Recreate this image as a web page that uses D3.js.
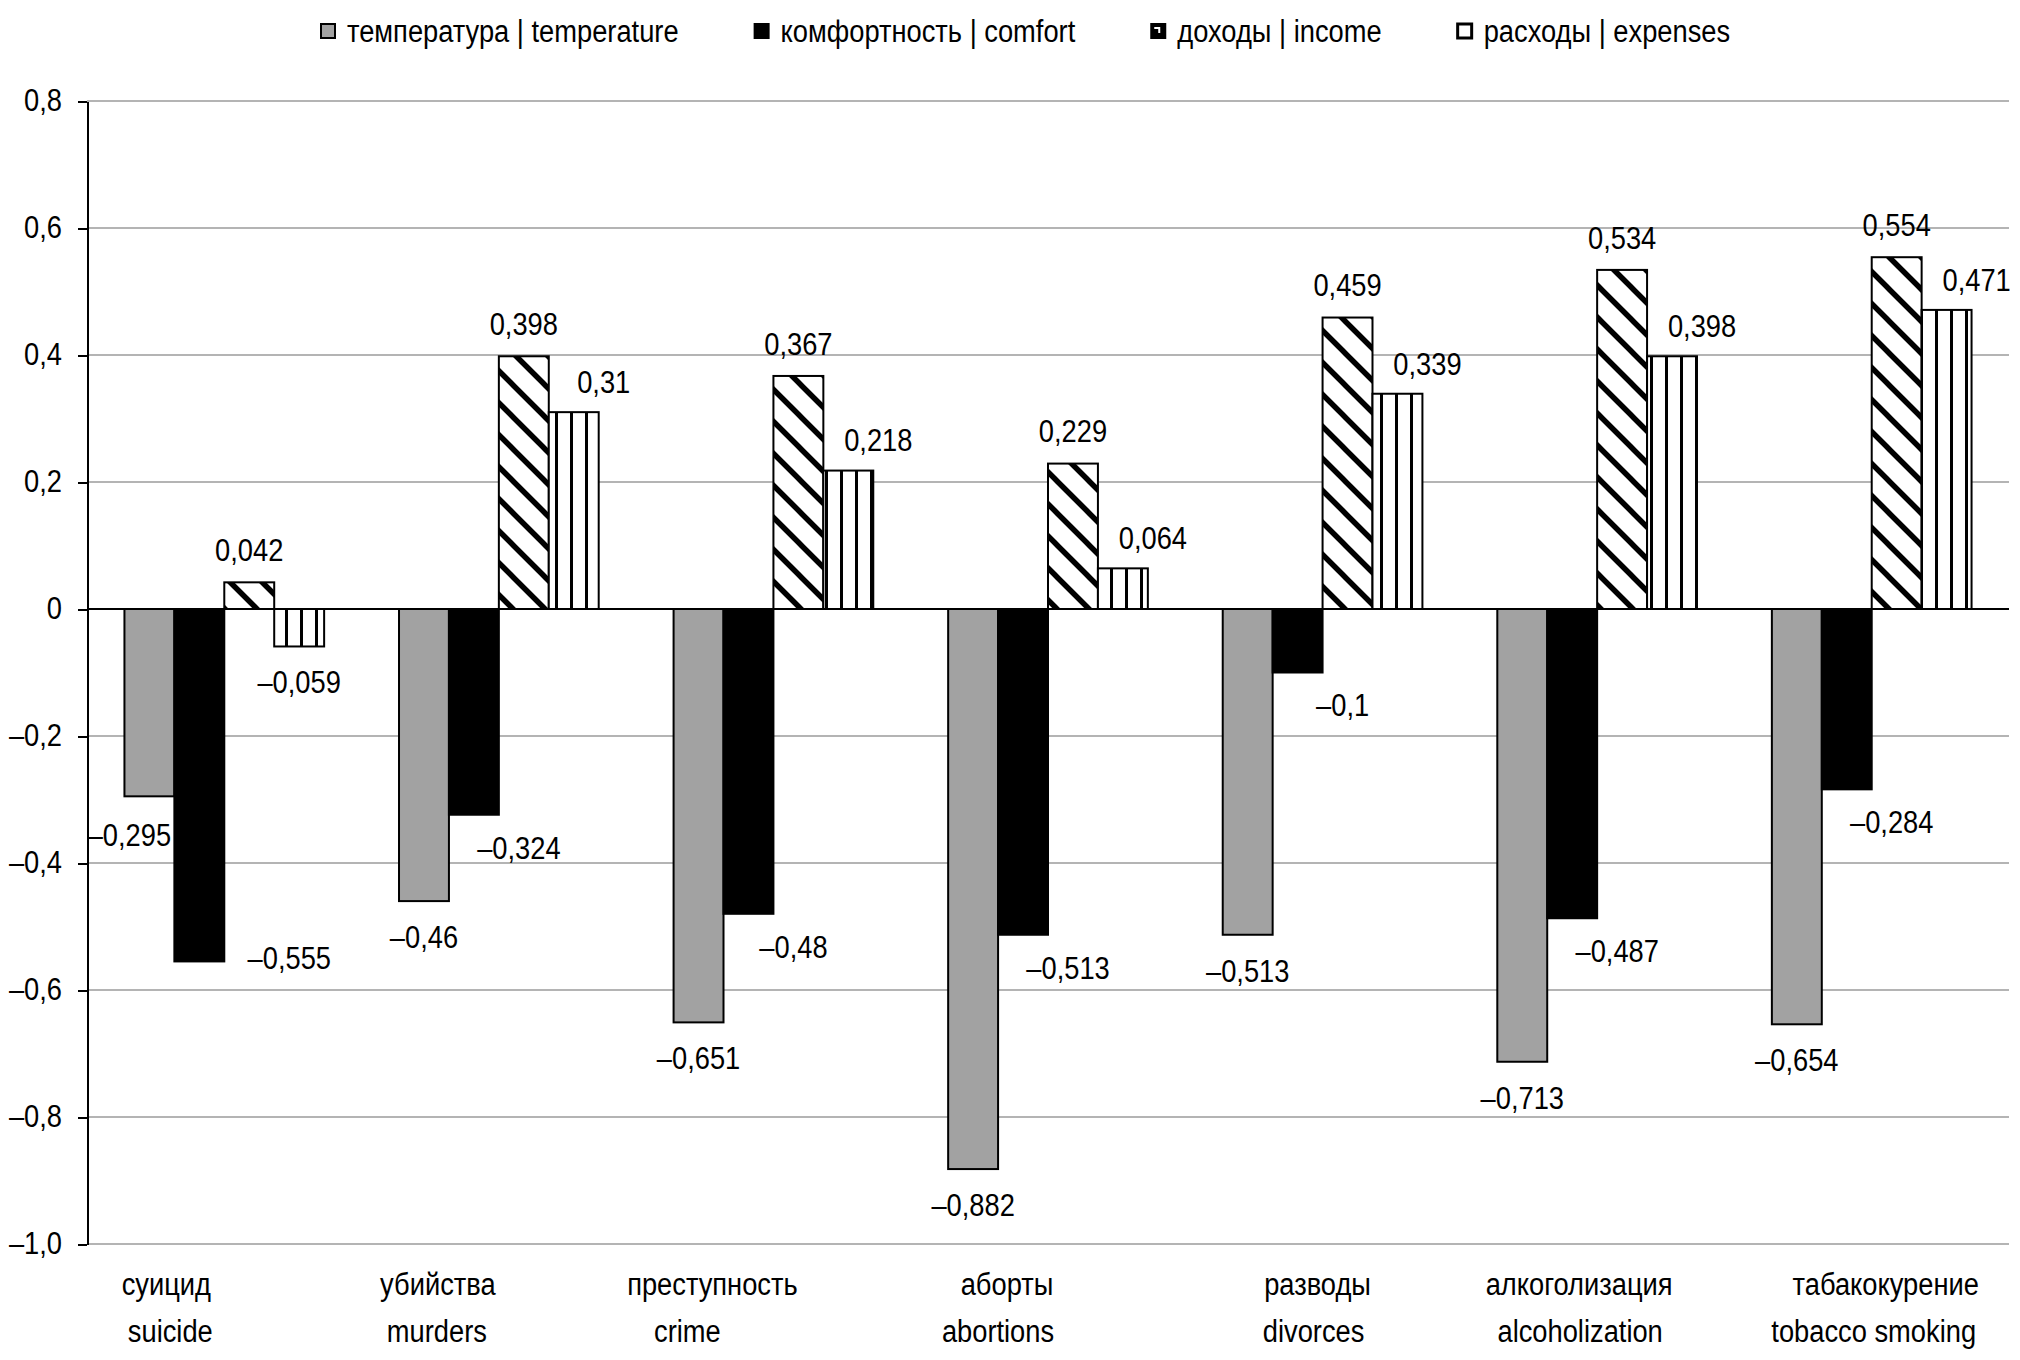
<!DOCTYPE html>
<head>
  <meta charset="utf-8">
  <script src="https://d3js.org/d3.v7.min.js"></script>
  <style>
    body { margin: 0; background: #fff; }
    text {
        font-family: "Liberation Sans Narrow", "Arial Narrow", "Liberation Sans", sans-serif;
        fill: #000;
    }
    .grid line { stroke: #b4b4b4; stroke-width: 2; }
    .axis path, .axis line { stroke: #000; stroke-width: 2; shape-rendering: crispEdges; }
  </style>
</head>
<body>
  <script>
    // data
    const categoriesRu = ["суицид", "убийства", "преступность", "аборты", "разводы", "алкоголизация", "табакокурение"];
    const categoriesEn = ["suicide", "murders", "crime", "abortions", "divorces", "alcoholization", "tobacco smoking"];
    const seriesNames = ["температура | temperature", "комфортность | comfort", "доходы | income", "расходы | expenses"];
    const temperature = [-0.295, -0.46, -0.651, -0.882, -0.513, -0.713, -0.654];
    const comfort     = [-0.555, -0.324, -0.48, -0.513, -0.1, -0.487, -0.284];
    const income      = [0.042, 0.398, 0.367, 0.229, 0.459, 0.534, 0.554];
    const expenses    = [-0.059, 0.31, 0.218, 0.064, 0.339, 0.398, 0.471];
    const yTicks = [0.8, 0.6, 0.4, 0.2, 0, -0.2, -0.4, -0.6, -0.8, -1.0];

    // layout
    const W = 2020, H = 1360;
    const plot = {left: 87, right: 2009, top: 101, bottom: 1244};
    const fontSize = 31;
    const narrow = 0.88;   // no narrow face installed, squeeze the regular one
    // hand-placed category captions in the original are a bit off-centre
    const ruNudge = [-58, -61, -61, -41, -5, -18, 14];
    const enNudge = [-54, -62, -86, -50, -9, -17, 2];

    const series = [temperature, comfort, income, expenses];
    const rows = [];
    categoriesRu.forEach((c, i) => {
        series.forEach((s, j) => rows.push({cat: i, ser: j, value: s[i]}));
    });

    function condense(sel) {
        sel.each(function() {
            const w = this.getComputedTextLength();
            d3.select(this)
                .attr("textLength", w * narrow)
                .attr("lengthAdjust", "spacingAndGlyphs");
        });
    }

    const svg = d3.select("body").append("svg")
        .attr("width", W)
        .attr("height", H);

    const defs = svg.append("defs");
    const stripes = defs.append("pattern")
        .attr("id", "pat-income")
        .attr("patternUnits", "userSpaceOnUse")
        .attr("width", 32).attr("height", 32);
    stripes.append("rect").attr("width", 32).attr("height", 32).attr("fill", "#fff");
    stripes.append("path")
        .attr("d", "M-8,-8L40,40M-8,24L8,40M24,-8L40,8")
        .attr("stroke", "#000").attr("stroke-width", 5.5);
    const vlines = defs.append("pattern")
        .attr("id", "pat-expenses")
        .attr("patternUnits", "userSpaceOnUse")
        .attr("width", 15).attr("height", 15);
    vlines.append("rect").attr("width", 15).attr("height", 15).attr("fill", "#fff");
    vlines.append("rect").attr("x", 0).attr("width", 3).attr("height", 15).attr("fill", "#000");

    const fills = ["#a2a2a2", "#000", "url(#pat-income)", "url(#pat-expenses)"];

    const x0 = d3.scaleBand().domain(d3.range(categoriesRu.length)).range([plot.left, plot.right]);
    const gap = x0.bandwidth() * 1.5 / 5.5;
    const x1 = d3.scaleBand().domain(d3.range(series.length)).range([gap / 2, x0.bandwidth() - gap / 2]);
    const y = d3.scaleLinear().domain([-1.0, 0.8]).range([plot.bottom, plot.top]);

    const tickFmt = v => v === 0 ? "0" : (v < 0 ? "\u2013" : "") + Math.abs(v).toFixed(1).replace(".", ",");
    const valFmt = v => (v < 0 ? "\u2013" : "") + String(Math.abs(v)).replace(".", ",");

    // grid
    svg.append("g").attr("class", "grid")
        .selectAll("line")
        .data(yTicks.filter(t => t !== 0))
        .enter().append("line")
        .attr("x1", plot.left).attr("x2", plot.right)
        .attr("y1", d => y(d)).attr("y2", d => y(d));

    // bars
    svg.append("g").selectAll("rect")
        .data(rows)
        .enter().append("rect")
        .attr("x", d => x0(d.cat) + x1(d.ser))
        .attr("width", x1.bandwidth())
        .attr("y", d => y(Math.max(0, d.value)))
        .attr("height", d => Math.abs(y(d.value) - y(0)))
        .attr("fill", d => fills[d.ser])
        .attr("stroke", "#000")
        .attr("stroke-width", 2);

    // zero line and y axis
    svg.append("line")
        .attr("x1", plot.left).attr("x2", plot.right)
        .attr("y1", y(0)).attr("y2", y(0))
        .attr("stroke", "#000").attr("stroke-width", 2);

    const yAxis = d3.axisLeft(y).tickValues(yTicks).tickFormat(tickFmt)
        .tickSize(9).tickSizeOuter(0).tickPadding(16);
    svg.append("g")
        .attr("class", "axis")
        .attr("transform", "translate(" + plot.left + ",0)")
        .call(yAxis)
        .selectAll("text")
        .style("font-size", fontSize + "px")
        .call(condense);

    // data labels
    function labelPos(d) {
        const cx = x0(d.cat) + x1(d.ser) + x1.bandwidth() / 2;
        const ey = y(d.value);
        let dx = 0, dy = d.value < 0 ? 36 : -32;
        if (d.ser === 1) { dx = 45; dy = 33; }
        if (d.ser === 3 && d.value > 0) { dx = 30; dy = -30; }
        if (d.cat === 0 && d.ser === 0) { dx = -20; dy = 39; }
        if (d.cat === 0 && d.ser === 1) { dx = 90; dy = -3; }
        return [cx + dx, ey + dy];
    }
    svg.append("g").selectAll("text")
        .data(rows)
        .enter().append("text")
        .attr("x", d => labelPos(d)[0])
        .attr("y", d => labelPos(d)[1])
        .attr("dy", "0.35em")
        .attr("text-anchor", "middle")
        .style("font-size", fontSize + "px")
        .text(d => valFmt(d.value))
        .call(condense);

    // category captions
    const cap = svg.append("g");
    cap.selectAll(".ru")
        .data(categoriesRu)
        .enter().append("text")
        .attr("class", "ru")
        .attr("x", (d, i) => x0(i) + x0.bandwidth() / 2 + ruNudge[i])
        .attr("y", 1295)
        .attr("text-anchor", "middle")
        .style("font-size", fontSize + "px")
        .text(d => d)
        .call(condense);
    cap.selectAll(".en")
        .data(categoriesEn)
        .enter().append("text")
        .attr("class", "en")
        .attr("x", (d, i) => x0(i) + x0.bandwidth() / 2 + enNudge[i])
        .attr("y", 1342)
        .attr("text-anchor", "middle")
        .style("font-size", fontSize + "px")
        .text(d => d)
        .call(condense);

    // legend
    const legend = svg.append("g");
    const keyFills = ["#a2a2a2", "#000", "#000", "#fff"];
    let lx = 321;
    seriesNames.forEach((name, j) => {
        legend.append("rect")
            .attr("x", lx).attr("y", 24)
            .attr("width", 14).attr("height", 14)
            .attr("fill", keyFills[j])
            .attr("stroke", "#000")
            .attr("stroke-width", j === 3 ? 3 : 2);
        if (j === 2) {
            legend.append("path")
                .attr("d", "M" + (lx + 3) + ",28L" + (lx + 8) + ",28L" + (lx + 8) + ",33")
                .attr("fill", "none").attr("stroke", "#fff").attr("stroke-width", 2);
        }
        const t = legend.append("text")
            .attr("x", lx + 26).attr("y", 42)
            .style("font-size", fontSize + "px")
            .text(name);
        const w = t.node().getComputedTextLength() * narrow;
        t.attr("textLength", w).attr("lengthAdjust", "spacingAndGlyphs");
        lx += 26 + w + 76;
    });
  </script>
</body>
